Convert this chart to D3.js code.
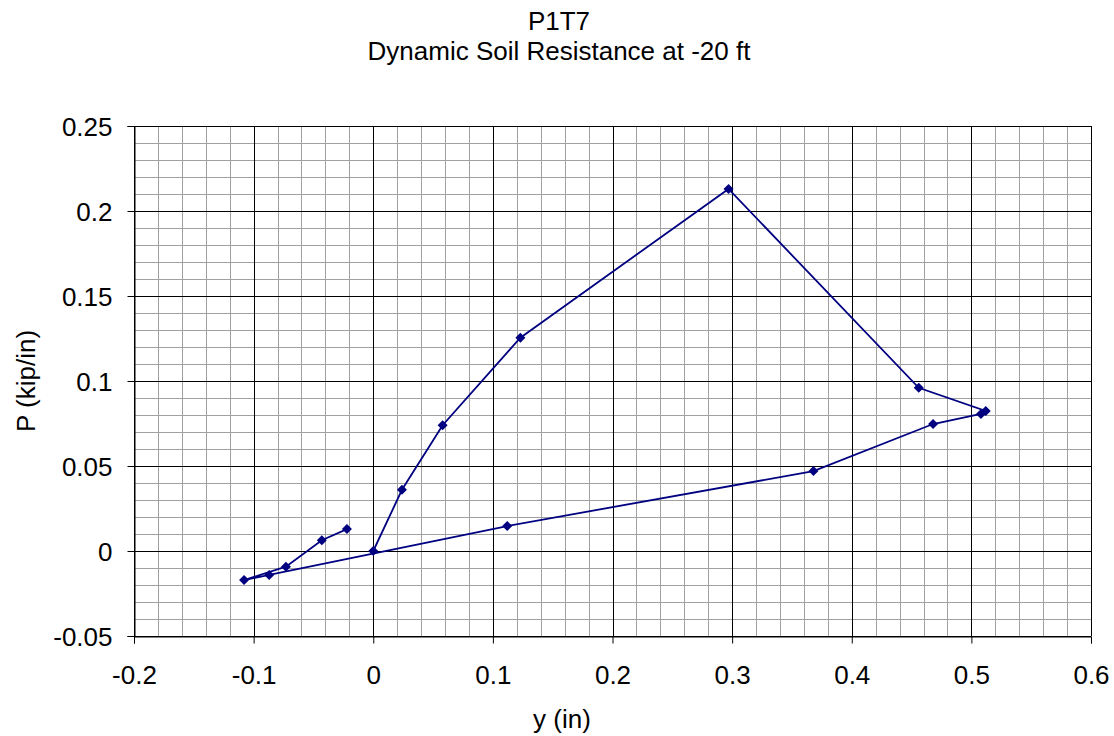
<!DOCTYPE html>
<html>
<head>
<meta charset="utf-8">
<script src="https://cdn.jsdelivr.net/npm/d3@7"></script>
<style>
  body { margin: 0; background: #fff; }
  text { font-family: "Liberation Sans", Arial, sans-serif; fill: #000; }
</style>
</head>
<body>
<script>
// dimensions de la page
var w = 1114, h = 736
var margin = {left: 134, right: 23, top: 126, bottom: 100}
var fs = "26px"

// données
const yIn = [0, 0.024, 0.058, 0.123, 0.297, 0.456, 0.512, 0.508, 0.468, 0.368, 0.112, -0.087, -0.108, -0.073, -0.043, -0.022]
const pKip = [0, 0.036, 0.074, 0.1255, 0.213, 0.096, 0.0824, 0.0806, 0.0747, 0.047, 0.0147, -0.0141, -0.0171, -0.0092, 0.0063, 0.0129]
const xTicks = [-0.2, -0.1, 0, 0.1, 0.2, 0.3, 0.4, 0.5, 0.6]
const yTicks = [-0.05, 0, 0.05, 0.1, 0.15, 0.2, 0.25]
const titleLines = ["P1T7", "Dynamic Soil Resistance at -20 ft"]

var pts = yIn.map(function(d, i) { return {x: d, y: pKip[i]} })

var x = d3.scaleLinear().domain([-0.2, 0.6]).range([margin.left, w - margin.right])
var y = d3.scaleLinear().domain([-0.05, 0.25]).range([h - margin.bottom, margin.top])

var svg = d3.select("body").append("svg").attr("width", w).attr("height", h)

// grille mineure
var xMinor = d3.range(-0.2, 0.6001, 0.02)
var yMinor = d3.range(-0.05, 0.2501, 0.01)
svg.append("g").selectAll("line").data(xMinor).enter().append("line")
  .attr("x1", d => Math.round(x(d)) + 0.5).attr("x2", d => Math.round(x(d)) + 0.5)
  .attr("y1", y(0.25)).attr("y2", y(-0.05))
  .attr("stroke", "#a0a0a0")
svg.append("g").selectAll("line").data(yMinor).enter().append("line")
  .attr("y1", d => Math.round(y(d)) + 0.5).attr("y2", d => Math.round(y(d)) + 0.5)
  .attr("x1", x(-0.2)).attr("x2", x(0.6))
  .attr("stroke", "#a0a0a0")

// grille majeure
svg.append("g").selectAll("line").data(xTicks).enter().append("line")
  .attr("x1", d => Math.round(x(d)) + 0.5).attr("x2", d => Math.round(x(d)) + 0.5)
  .attr("y1", y(0.25)).attr("y2", y(-0.05))
  .attr("stroke", "#000")
svg.append("g").selectAll("line").data(yTicks).enter().append("line")
  .attr("y1", d => Math.round(y(d)) + 0.5).attr("y2", d => Math.round(y(d)) + 0.5)
  .attr("x1", x(-0.2)).attr("x2", x(0.6))
  .attr("stroke", "#000")

// axes
var fmt = function(d) { return String(+d.toFixed(2)) }
var xAxis = svg.append("g")
  .attr("transform", "translate(0," + (Math.round(y(-0.05)) + 0.5) + ")")
  .call(d3.axisBottom(x).tickValues(xTicks).tickFormat(fmt).tickSize(7).tickPadding(22))
var yAxis = svg.append("g")
  .attr("transform", "translate(" + (Math.round(x(-0.2)) + 0.5) + ",0)")
  .call(d3.axisLeft(y).tickValues(yTicks).tickFormat(fmt).tickSize(7).tickPadding(15))
;[xAxis, yAxis].forEach(function(a) {
  a.selectAll("text").style("font-size", fs).attr("fill", "#000")
  a.selectAll("line, path").attr("stroke", "#000")
})
yAxis.selectAll("text").attr("dy", "0.35em")

// courbe
var line = d3.line().x(d => x(d.x)).y(d => y(d.y))
svg.append("path").datum(pts)
  .attr("d", line)
  .attr("fill", "none")
  .attr("stroke", "#000080")
  .attr("stroke-width", 1.8)

svg.append("g").selectAll("path").data(pts).enter().append("path")
  .attr("d", d3.symbol().type(d3.symbolDiamond2).size(64))
  .attr("transform", d => "translate(" + x(d.x) + "," + y(d.y) + ")")
  .attr("fill", "#000080")

// titres
svg.append("g").selectAll("text").data(titleLines).enter().append("text")
  .attr("x", 559).attr("y", (d, i) => 30 + i * 30)
  .attr("text-anchor", "middle")
  .style("font-size", fs)
  .text(d => d)

svg.append("text").attr("x", 562).attr("y", 728)
  .attr("text-anchor", "middle").style("font-size", fs).text("y (in)")

svg.append("text")
  .attr("transform", "translate(35," + y(0.1) + ") rotate(-90)")
  .attr("text-anchor", "middle").style("font-size", fs).text("P (kip/in)")
</script>
</body>
</html>
